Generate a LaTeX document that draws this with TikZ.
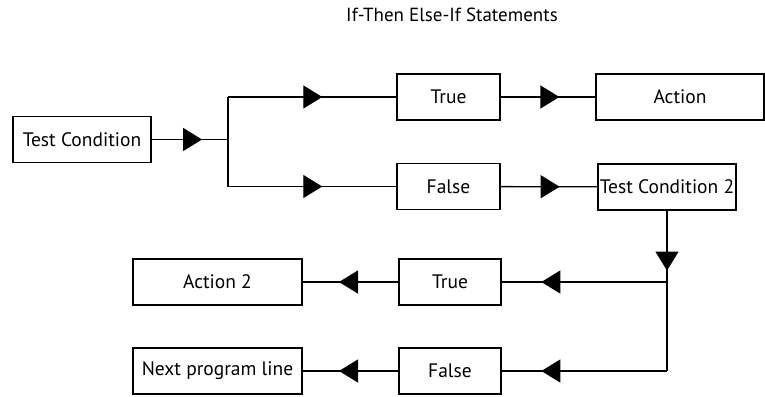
\documentclass[tikz,border=0pt]{standalone}
\usepackage{fontspec}
\setmainfont{PT Sans}
\usetikzlibrary{arrows.meta, positioning, decorations.markings}

\begin{document}
\begin{tikzpicture}[
        x=1pt, y=-1pt,
        box/.style={rectangle, draw, line width=1.3pt, inner sep=0pt, minimum height=46pt, align=center, font=\fontsize{19.5}{22}\selectfont},
        flow/.style={line width=1.3pt},
        midarrow/.style={flow, postaction={decorate}, decoration={markings, mark=at position #1 with {\arrow{Triangle[width=23pt, length=19pt]}}}}
    ]
        \useasboundingbox (0,0) rectangle (765,396);
        \node[font=\fontsize{19}{22}\selectfont] (title) at (452,15) {If-Then Else-If Statements};

        % first test
        \node[box, minimum width=138pt] (cond) at (82,139.5) {Test Condition};
        \node[box, minimum width=103pt] (true1) at (448.5,97) {True};
        \node[box, minimum width=103pt] (false1) at (448.5,186.5) {False};
        \node[box, minimum width=168pt] (action) at (680,97) {Action};
        \node[box, minimum width=138pt] (cond2) at (667,187) {Test Condition 2};

        \coordinate (split) at (228,139.5);
        \draw[midarrow=0.66] (cond) -- (split);
        \draw[flow] (split |- true1) -- (split |- false1);
        \draw[midarrow=0.56] (split |- true1) -- (true1);
        \draw[midarrow=0.56] (split |- false1) -- (false1);
        \draw[midarrow=0.62] (true1) -- (action);
        \draw[midarrow=0.61] (false1) -- (cond2);

        % second test
        \node[box, minimum width=102pt] (true2) at (450,282) {True};
        \node[box, minimum width=102pt] (false2) at (450,371) {False};
        \node[box, minimum width=169pt] (action2) at (217.5,282) {Action 2};
        \node[box, minimum width=169pt] (next) at (217.5,371) {Next program line};

        \coordinate (split2) at (cond2.south |- true2);
        \coordinate (corner) at (cond2.south |- false2);
        \draw[midarrow=0.84] (cond2) -- (split2);
        \draw[flow] (split2) -- (corner);
        \draw[midarrow=0.76] (split2) -- (true2);
        \draw[midarrow=0.76] (corner) -- (false2);
        \draw[midarrow=0.62] (true2) -- (action2);
        \draw[midarrow=0.62] (false2) -- (next);
    \end{tikzpicture}
\end{document}
